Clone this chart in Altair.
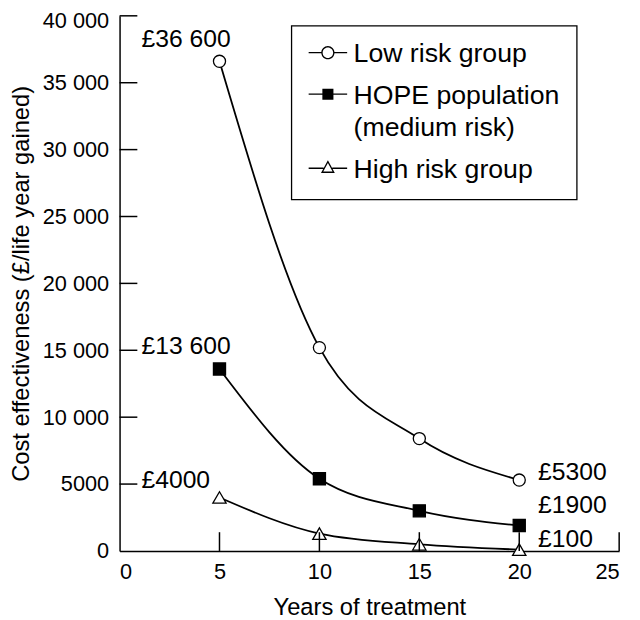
import altair as alt
import pandas as pd

# ---- data ----
years = [5, 10, 15, 20]
low_risk = [36600, 15200, 8400, 5300]
hope = [13600, 5400, 3000, 1900]
high_risk = [4000, 1300, 500, 100]
groups = ["Low risk group", "HOPE population", "High risk group"]
hope_second_line = "(medium risk)"
left_labels = ["£36 600", "£13 600", "£4000"]
right_labels = ["£5300", "£1900", "£100"]
x_ticks = [0, 5, 10, 15, 20, 25]
y_ticks = [0, 5000, 10000, 15000, 20000, 25000, 30000, 35000, 40000]

series = [low_risk, hope, high_risk]
df = pd.DataFrame(
    [{"group": g, "year": yr, "cost": v}
     for g, vals in zip(groups, series) for yr, v in zip(years, vals)]
)

W, H = 506, 542
FONT = "Liberation Sans"

x_scale = alt.Scale(domain=[0, 25], nice=False)
y_scale = alt.Scale(domain=[0, 40000], nice=False)
x_enc = alt.X("year:Q", scale=x_scale,
              axis=alt.Axis(values=x_ticks, title="Years of treatment", format="d"))
y_enc = alt.Y("cost:Q", scale=y_scale,
              axis=alt.Axis(values=y_ticks,
                            title="Cost effectiveness (£/life year gained)",
                            labelExpr="datum.value >= 10000 ? replace(format(datum.value, ','), ',', ' ') : format(datum.value, 'd')",
                            labelOffset={"condition": {"test": "datum.value == 40000", "value": 5}, "value": 0}))

lines = alt.Chart(df).mark_line(interpolate="monotone", color="black", strokeWidth=1.8).encode(
    x=x_enc, y=y_enc, detail="group:N")

tri_path = "M0,-0.95L1.1,0.95H-1.1Z"
points = alt.Chart(df).mark_point(filled=True, size=150, stroke="black", strokeWidth=1.3, opacity=1).encode(
    x=x_enc, y=y_enc,
    shape=alt.Shape("group:N", scale=alt.Scale(domain=groups, range=["circle", "square", tri_path]), legend=None),
    fill=alt.Fill("group:N", scale=alt.Scale(domain=groups, range=["white", "black", "white"]), legend=None),
)

# ---- legend symbol outlines (filled geometry, unit = 20 px) ----
s = -0.483      # vertical shift so symbols sit on the first text line
t = 0.034       # half line thickness


def f(v):
    return f"{v:.3f}"


def seg(x0, x1):
    return f"M{f(x0)},{f(s - t)}H{f(x1)}V{f(s + t)}H{f(x0)}Z"


def ring(r, sweep):
    return (f"M{f(r)},{f(s)}A{f(r)},{f(r)} 0 1,{sweep} {f(-r)},{f(s)}"
            f"A{f(r)},{f(r)} 0 1,{sweep} {f(r)},{f(s)}Z")


def tri(pts):
    (ax, ay), (bx, by), (cx, cy) = pts
    return f"M{f(ax)},{f(ay)}L{f(bx)},{f(by)}L{f(cx)},{f(cy)}Z"


r_c = 0.3
circle_sym = seg(-0.975, -r_c) + seg(r_c, 0.975) + ring(r_c + t, 1) + ring(r_c - t, 0)

q = 0.28
square_sym = seg(-0.975, -q) + seg(q, 0.975) + f"M{f(-q)},{f(s - q)}H{f(q)}V{f(s + q)}H{f(-q)}Z"

a, top, bot = 0.35, s - 0.40, s + 0.24
outer = [(0, top), (a, bot), (-a, bot)]
side = ((a) ** 2 + (bot - top) ** 2) ** 0.5
base = 2 * a
per = 2 * side + base
inc_x = 0.0
inc_y = (base * top + side * bot + side * bot) / per
area = 0.5 * base * (bot - top)
r_in = area / (per / 2)
k = (r_in - 2 * t) / r_in
inner = [(inc_x + k * (x - inc_x), inc_y + k * (y - inc_y)) for x, y in outer]
edge_x = a * (s - top) / (bot - top)
triangle_sym = (seg(-0.975, -edge_x) + seg(edge_x, 0.975) + tri(outer)
                + tri([inner[0], inner[2], inner[1]]))

legend_paths = [circle_sym, square_sym, triangle_sym]

leg = alt.Legend(
    title=None, orient="none", legendX=174, legendY=10,
    strokeColor="black", fillColor="white", padding=17,
    labelFont=FONT, labelFontSize=27, labelColor="black", labelLimit=400,
    labelBaseline="alphabetic", labelOffset=6, rowPadding=15,
    symbolSize=1600, symbolFillColor="black", symbolStrokeWidth=0,
    labelExpr=f"datum.label == '{groups[1]}' ? ['{groups[1]}', '{hope_second_line}'] : datum.label",
)
legend_layer = alt.Chart(df).transform_filter("false").mark_point(
    filled=True, color="black", size=1600, opacity=1).encode(
    shape=alt.Shape("group:N", scale=alt.Scale(domain=groups, range=legend_paths), legend=leg),
)

xt = alt.Chart(pd.DataFrame({"year": x_ticks[1:]})).mark_rule(color="black", strokeWidth=1.5).encode(
    x=x_enc, y=alt.value(H), y2=alt.value(H - 19))
yt = alt.Chart(pd.DataFrame({"cost": y_ticks[1:]})).mark_rule(color="black", strokeWidth=1.5).encode(
    y=y_enc, x=alt.value(0), x2=alt.value(18))

label_specs = [
    (years[0], low_risk[0], left_labels[0], -79, -22),
    (years[0], hope[0], left_labels[1], -79, -23),
    (years[0], high_risk[0], left_labels[2], -79, -18),
    (years[-1], low_risk[-1], right_labels[0], 19, -8),
    (years[-1], hope[-1], right_labels[1], 19, -21),
    (years[-1], high_risk[-1], right_labels[2], 19, -11),
]
texts = []
for yr, v, tx, dx, dy in label_specs:
    texts.append(
        alt.Chart(pd.DataFrame([{"year": yr, "cost": v, "label": tx}])).mark_text(
            align="left", baseline="middle", dx=dx, dy=dy, font=FONT, fontSize=25, color="black"
        ).encode(x=x_enc, y=y_enc, text="label:N")
    )

chart = alt.layer(lines, points, legend_layer, xt, yt, *texts).resolve_scale(
    shape="independent"
).properties(
    width=W, height=H,
    autosize=alt.AutoSizeParams(type="none"),
    padding={"left": 113, "top": 4, "right": 13, "bottom": 66},
).configure(
    style={"guide-label": {"lineHeight": 33}}
).configure_view(stroke=None).configure_axis(
    domainColor="black", domainWidth=1.5, ticks=False, tickSize=0, grid=False,
    labelFont=FONT, labelFontSize=22, labelColor="black", labelPadding=11,
    titleFont=FONT, titleFontSize=24, titleColor="black", titleFontWeight="normal",
).configure_axisY(titlePadding=9).configure_axisX(titlePadding=13).configure_legend(
    strokeWidth=1.3
)

chart.save("out.html", embed_options={"renderer": "svg", "actions": False})
